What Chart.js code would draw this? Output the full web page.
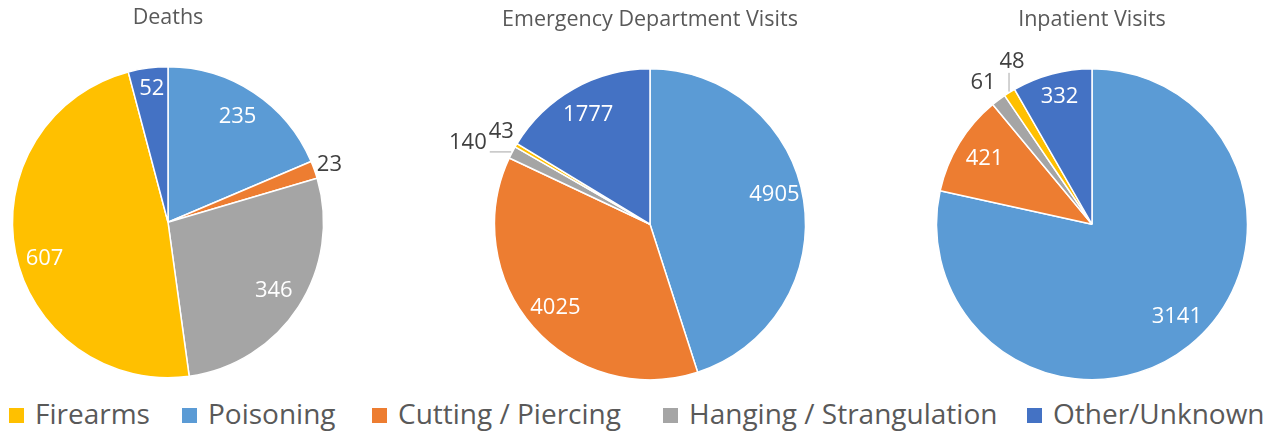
<!DOCTYPE html>
<html>
<head>
<meta charset="utf-8">
<script src="https://cdn.jsdelivr.net/npm/chart.js@4.4.0/dist/chart.umd.min.js"></script>
<style>
  body { margin: 0; background: #fff; width: 1281px; height: 431px; overflow: hidden; position: relative; font-family: "Open Sans", sans-serif; }
  canvas { position: absolute; }
  .key { position: absolute; top: 399px; font-size: 28px; line-height: 28px; color: #595959; white-space: nowrap; }
  .key i { position: absolute; left: 0; top: 9px; width: 15px; height: 15px; }
  .key span { margin-left: 26px; }
</style>
</head>
<body>
<canvas id="deathsChart" width="420" height="386" style="left:-42px; top:-2px"></canvas>
<canvas id="edChart" width="420" height="386" style="left:440px; top:0px"></canvas>
<canvas id="inpatientChart" width="420" height="386" style="left:882px; top:0px"></canvas>
<div id="legend"></div>
<script>
// slice order, clockwise from 12 o'clock
const categories = ['Poisoning', 'Cutting / Piercing', 'Hanging / Strangulation', 'Firearms', 'Other/Unknown'];
const deaths = [235, 23, 346, 607, 52];
const edVisits = [4905, 4025, 140, 43, 1777];
const inpatientVisits = [3141, 421, 61, 48, 332];

// legend is listed in a different order than the slices
const legendOrder = ['Firearms', 'Poisoning', 'Cutting / Piercing', 'Hanging / Strangulation', 'Other/Unknown'];

const sliceColors = {
    'Firearms': '#FFC000',
    'Poisoning': '#5B9BD5',
    'Cutting / Piercing': '#ED7D31',
    'Hanging / Strangulation': '#A5A5A5',
    'Other/Unknown': '#4472C4'
};

// value labels: white inside big slices, dark outside small ones
const sliceValues = {
    id: 'sliceValues',
    afterDatasetsDraw(chart, args, opts) {
        const ctx = chart.ctx;
        const values = chart.data.datasets[0].data;
        const total = values.reduce((s, v) => s + v, 0);
        const nudge = opts.nudge || {};
        ctx.save();
        ctx.font = '22px "Open Sans"';
        ctx.textAlign = 'center';
        ctx.textBaseline = 'middle';
        chart.getDatasetMeta(0).data.forEach((arc, i) => {
            const p = arc.getProps(['x', 'y', 'startAngle', 'endAngle', 'outerRadius'], true);
            const mid = (p.startAngle + p.endAngle) / 2;
            const cos = Math.cos(mid), sin = Math.sin(mid);
            const text = String(values[i]);
            const [dx, dy] = nudge[i] || [0, 0];
            if (values[i] / total > 0.03) {
                const r = p.outerRadius * 0.81;
                ctx.fillStyle = '#fff';
                ctx.fillText(text, p.x + cos * r + dx, p.y + sin * r + dy);
                return;
            }
            const r = p.outerRadius + 16;
            const lx = p.x + cos * r + dx, ly = p.y + sin * r + dy;
            if (Math.hypot(dx, dy) > 10) {
                // leader line from the slice edge to the nearest side of the label
                const ex = p.x + cos * (p.outerRadius + 1), ey = p.y + sin * (p.outerRadius + 1);
                const hw = ctx.measureText(text).width / 2 + 3, hh = 11;
                const tx = Math.min(Math.max(ex, lx - hw), lx + hw);
                const ty = Math.min(Math.max(ey, ly - hh), ly + hh);
                ctx.strokeStyle = '#a6a6a6';
                ctx.lineWidth = 1;
                ctx.beginPath();
                ctx.moveTo(ex, ey);
                ctx.lineTo(tx, ty);
                ctx.stroke();
            }
            ctx.fillStyle = '#404040';
            ctx.fillText(text, lx, ly);
        });
        ctx.restore();
    }
};

function pieChart(id, title, values, nudge) {
    return new Chart(document.getElementById(id), {
        type: 'pie',
        data: {
            labels: categories,
            datasets: [{
                data: values,
                backgroundColor: categories.map(c => sliceColors[c]),
                borderColor: '#fff',
                borderWidth: 1.5
            }]
        },
        options: {
            responsive: false,
            animation: false,
            events: [],
            layout: { padding: { bottom: 5.5 } },
            plugins: {
                legend: { display: false },
                tooltip: { enabled: false },
                title: {
                    display: true,
                    text: title,
                    color: '#595959',
                    font: { family: 'Open Sans', size: 21.5, weight: 'normal', lineHeight: 1.2 },
                    padding: { top: 7, bottom: 35.2 }
                },
                sliceValues: { nudge: nudge }
            }
        },
        plugins: [sliceValues]
    });
}

pieChart('deathsChart', 'Deaths', deaths, { 3: [0, 12], 4: [0, -9] });
pieChart('edChart', 'Emergency Department Visits', edVisits, { 0: [0, -10], 2: [-30, -2], 3: [-1, -5] });
pieChart('inpatientChart', 'Inpatient Visits', inpatientVisits, { 0: [6, -6], 2: [-6, -4], 3: [11, -17], 4: [0, -6] });

// shared legend row under the three pies
const legendLeft = [9, 182, 372, 663, 1027];
const legend = document.getElementById('legend');
legendOrder.forEach((name, k) => {
    const item = document.createElement('div');
    item.className = 'key';
    item.style.left = legendLeft[k] + 'px';
    item.innerHTML = '<i style="background:' + sliceColors[name] + '"></i><span>' + name + '</span>';
    legend.appendChild(item);
});
</script>
</body>
</html>
